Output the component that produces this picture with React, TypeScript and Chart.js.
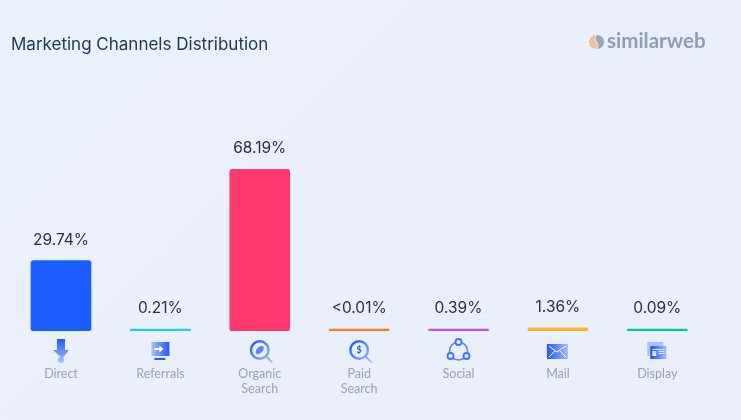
import React, { useEffect, useRef } from "react";
import { Chart, registerables } from "chart.js";

Chart.register(...registerables);

const categories = [["Direct"], ["Referrals"], ["Organic", "Search"], ["Paid", "Search"], ["Social"], ["Mail"], ["Display"]];
const shares = [29.74, 0.21, 68.19, 0.01, 0.39, 1.36, 0.09];
const valueLabels = ["29.74%", "0.21%", "68.19%", "<0.01%", "0.39%", "1.36%", "0.09%"];
const barColors = ["#1b5cff", "#19cdf5", "#ff3870", "#ff7a1a", "#c64bf0", "#ffb32b", "#00c99a"];
const titleText = "Marketing Channels Distribution";
const logoText = "similarweb";
const FONT = '"Inter", "Lato", sans-serif';
const LABEL_FONT = "Lato, sans-serif";

function blueGrad(ctx: CanvasRenderingContext2D, x0: number, y0: number, x1: number, y1: number) {
  const g = ctx.createLinearGradient(x0, y0, x1, y1);
  g.addColorStop(0, "#2258f5");
  g.addColorStop(1, "#a9c3ff");
  return g;
}

function magnifier(ctx: CanvasRenderingContext2D, cx: number, cy: number) {
  ctx.strokeStyle = blueGrad(ctx, cx - 8, cy - 8, cx + 12, cy + 12);
  ctx.lineWidth = 2.4;
  ctx.beginPath();
  ctx.arc(cx, cy, 8.8, 0, Math.PI * 2);
  ctx.stroke();
  ctx.lineWidth = 2;
  ctx.beginPath();
  ctx.moveTo(cx + 6.5, cy + 6.5);
  ctx.lineTo(cx + 12.5, cy + 12.5);
  ctx.stroke();
}

const iconDrawers: ((ctx: CanvasRenderingContext2D, x: number, y: number) => void)[] = [
  (ctx, x, y) => {
    ctx.fillStyle = blueGrad(ctx, x, y - 12, x, y + 12);
    ctx.beginPath();
    ctx.moveTo(x - 4, y - 12);
    ctx.lineTo(x + 4, y - 12);
    ctx.lineTo(x + 4, y - 1);
    ctx.lineTo(x + 8, y - 1);
    ctx.lineTo(x + 1, y + 8);
    ctx.lineTo(x + 3, y + 8);
    ctx.arc(x, y + 9, 3, 0, Math.PI * 2);
    ctx.lineTo(x - 8, y - 1);
    ctx.lineTo(x - 4, y - 1);
    ctx.closePath();
    ctx.fill();
  },
  (ctx, x, y) => {
    ctx.fillStyle = blueGrad(ctx, x + 9, y, x - 9, y);
    ctx.fillRect(x - 9, y - 9, 18, 14);
    ctx.fillStyle = "#2258f5";
    ctx.fillRect(x - 6, y + 7, 11, 2);
    ctx.fillStyle = "#ffffff";
    ctx.fillRect(x - 6, y - 3, 6, 2);
    ctx.beginPath();
    ctx.moveTo(x - 1, y - 5.5);
    ctx.lineTo(x + 3, y - 2);
    ctx.lineTo(x - 1, y + 1.5);
    ctx.closePath();
    ctx.fill();
  },
  (ctx, x, y) => {
    magnifier(ctx, x, y - 1);
    ctx.fillStyle = "#5e86f2";
    ctx.beginPath();
    ctx.ellipse(x, y - 1, 5, 3, -Math.PI / 4, 0, Math.PI * 2);
    ctx.fill();
  },
  (ctx, x, y) => {
    magnifier(ctx, x, y - 1);
    ctx.fillStyle = "#2258f5";
    ctx.font = "bold 9px " + LABEL_FONT;
    ctx.textAlign = "center";
    ctx.textBaseline = "middle";
    ctx.fillText("$", x, y - 1);
  },
  (ctx, x, y) => {
    ctx.strokeStyle = "#5b86f5";
    ctx.lineWidth = 1.6;
    ctx.beginPath();
    ctx.arc(x, y, 9, 0, Math.PI * 2);
    ctx.stroke();
    [[0, -9], [-8, 5], [8, 5]].forEach(([dx, dy]) => {
      ctx.beginPath();
      ctx.arc(x + dx, y + dy, 3, 0, Math.PI * 2);
      ctx.fillStyle = "#e9effb";
      ctx.fill();
      ctx.strokeStyle = "#3f72f5";
      ctx.lineWidth = 1.8;
      ctx.stroke();
    });
  },
  (ctx, x, y) => {
    ctx.fillStyle = blueGrad(ctx, x - 11, y, x + 11, y);
    ctx.fillRect(x - 11, y - 7, 21, 15);
    ctx.strokeStyle = "#ffffff";
    ctx.lineWidth = 1;
    ctx.beginPath();
    ctx.moveTo(x - 9, y - 5);
    ctx.lineTo(x - 1, y + 1);
    ctx.lineTo(x + 8, y - 5);
    ctx.moveTo(x - 9, y + 6);
    ctx.lineTo(x - 3, y);
    ctx.moveTo(x + 8, y + 6);
    ctx.lineTo(x + 2, y);
    ctx.stroke();
  },
  (ctx, x, y) => {
    ctx.fillStyle = "#a9c3fb";
    ctx.fillRect(x - 10, y - 9, 16, 14);
    ctx.fillStyle = blueGrad(ctx, x - 6, y, x + 10, y);
    ctx.fillRect(x - 7, y - 5, 16, 13);
    ctx.fillStyle = "#dfe8fc";
    ctx.fillRect(x - 5, y - 2, 12, 1);
    ctx.fillRect(x - 5, y, 4, 5);
    ctx.fillRect(x + 1, y, 6, 1);
    ctx.fillRect(x + 1, y + 2, 6, 1);
  },
];

const overlay = {
  id: "overlay",
  afterDatasetsDraw(chart: any) {
    const ctx: CanvasRenderingContext2D = chart.ctx;
    ctx.save();
    ctx.textBaseline = "alphabetic";
    ctx.textAlign = "left";
    ctx.fillStyle = "#1f3550";
    ctx.font = "17px " + FONT;
    ctx.fillText(titleText, 11, 50);

    // logo
    const lx = 596;
    const ly = 42;
    ctx.fillStyle = "#f4bd93";
    ctx.beginPath();
    ctx.arc(lx, ly, 7, Math.PI * 0.5, Math.PI * 1.5);
    ctx.quadraticCurveTo(lx - 3, ly - 2, lx, ly);
    ctx.quadraticCurveTo(lx + 3, ly + 3, lx, ly + 7);
    ctx.fill();
    ctx.fillStyle = "#97a7ba";
    ctx.beginPath();
    ctx.arc(lx + 1, ly, 7, -Math.PI * 0.5, Math.PI * 0.5);
    ctx.quadraticCurveTo(lx + 4, ly + 3, lx + 1, ly);
    ctx.quadraticCurveTo(lx - 2, ly - 3, lx + 1, ly - 7);
    ctx.fill();
    ctx.fillStyle = "#8d9db2";
    ctx.font = "bold 20.5px " + LABEL_FONT;
    ctx.fillText(logoText, 607, 48);

    const meta = chart.getDatasetMeta(0);
    meta.data.forEach((bar: any, i: number) => {
      ctx.fillStyle = "#2b3038";
      ctx.font = "15.5px " + FONT;
      ctx.textAlign = "center";
      ctx.textBaseline = "alphabetic";
      ctx.fillText(valueLabels[i], bar.x, bar.y - 16);
      iconDrawers[i](ctx, bar.x, chart.scales.x.top + 20);
    });
    ctx.restore();
  },
};

export default function App() {
  const ref = useRef<HTMLCanvasElement>(null);
  useEffect(() => {
    const chart = new Chart(ref.current!, {
      type: "bar",
      data: {
        labels: categories,
        datasets: [{
          data: shares,
          backgroundColor: barColors,
          barThickness: 60,
          minBarLength: 2,
          borderRadius: 3,
          borderSkipped: false,
        }],
      },
      options: {
        responsive: false,
        animation: false,
        layout: { padding: { left: 11.3, right: 34, top: 94, bottom: 0 } },
        plugins: { legend: { display: false }, tooltip: { enabled: false } },
        scales: {
          x: {
            border: { display: false },
            grid: { display: false },
            afterFit: (s: any) => { s.height = 89; },
            ticks: {
              color: "#98a4b5",
              font: { family: LABEL_FONT, size: 12.5, lineHeight: 1.2 },
              padding: 27,
              maxRotation: 0,
              autoSkip: false,
            },
          },
          y: { display: false, min: 0, max: 100 },
        },
      },
      plugins: [overlay],
    });
    return () => chart.destroy();
  }, []);
  return (
    <div style={{ position: "absolute", left: 0, top: 0, width: 741, height: 420, overflow: "hidden", background: "linear-gradient(135deg,#eaf2fb 0%,#e9f0fb 50%,#e9effb 100%)" }}>
      <canvas ref={ref} width={741} height={420} style={{ display: "block" }} />
    </div>
  );
}
